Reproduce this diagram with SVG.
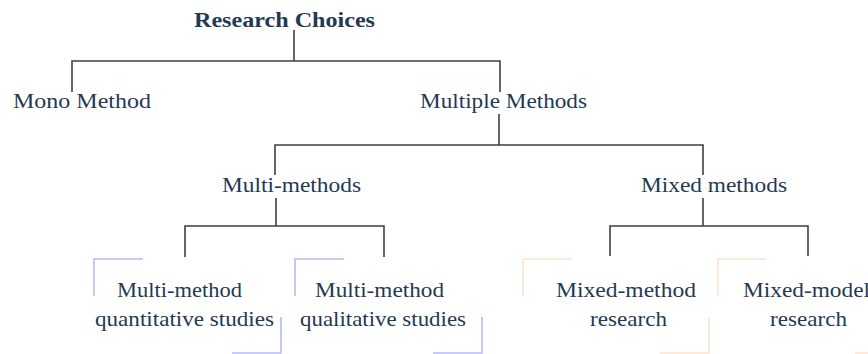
<svg xmlns="http://www.w3.org/2000/svg" width="868" height="354" viewBox="0 0 868 354">
  <style>
    .lbl { font-family: "Liberation Serif", "Times New Roman", serif; font-size: 21px; fill: #1f3a52; }
    .ttl { font-weight: bold; }
    .conn { stroke: #3f3f3f; stroke-width: 1.6; fill: none; }
    .brk-b { stroke: #b9b9f3; stroke-width: 1.6; fill: none; }
    .brk-o { stroke: #fbe5d2; stroke-width: 1.6; fill: none; }
  </style>
  <rect width="868" height="354" fill="#ffffff"/>

  <!-- tree connectors -->
  <g id="connectors">
    <path class="conn" d="M294 30 V61 M72 92 V61 H500 V92"/>
    <path class="conn" d="M499 114 V145 M275 175 V145 H703 V175"/>
    <path class="conn" d="M276 198 V226 M185 257 V226 H384 V257"/>
    <path class="conn" d="M703 198 V226 M610 256 V226 H808 V256"/>
  </g>

  <g id="research-choices">
    <text class="lbl ttl" x="194" y="27" textLength="181" lengthAdjust="spacingAndGlyphs">Research Choices</text>
  </g>
  <g id="mono-method">
    <text class="lbl" x="13" y="108" textLength="138" lengthAdjust="spacingAndGlyphs">Mono Method</text>
  </g>
  <g id="multiple-methods">
    <text class="lbl" x="420" y="108" textLength="167" lengthAdjust="spacingAndGlyphs">Multiple Methods</text>
  </g>
  <g id="multi-methods">
    <text class="lbl" x="222" y="192" textLength="139" lengthAdjust="spacingAndGlyphs">Multi-methods</text>
  </g>
  <g id="mixed-methods">
    <text class="lbl" x="641" y="192" textLength="146" lengthAdjust="spacingAndGlyphs">Mixed methods</text>
  </g>

  <g id="multi-method-quantitative">
    <path class="brk-b" d="M94 296 V259 H143 M232 353 H281 V317"/>
    <text class="lbl" x="117" y="297" textLength="125" lengthAdjust="spacingAndGlyphs">Multi-method</text>
    <text class="lbl" x="95" y="326" textLength="179" lengthAdjust="spacingAndGlyphs">quantitative studies</text>
  </g>
  <g id="multi-method-qualitative">
    <path class="brk-b" d="M295 296 V259 H344 M433 353 H482 V317"/>
    <text class="lbl" x="315" y="297" textLength="129" lengthAdjust="spacingAndGlyphs">Multi-method</text>
    <text class="lbl" x="300" y="326" textLength="166" lengthAdjust="spacingAndGlyphs">qualitative studies</text>
  </g>
  <g id="mixed-method-research">
    <path class="brk-o" d="M523 296 V259 H572 M660 353 H709 V317"/>
    <text class="lbl" x="556" y="297" textLength="140" lengthAdjust="spacingAndGlyphs">Mixed-method</text>
    <text class="lbl" x="590" y="326" textLength="77" lengthAdjust="spacingAndGlyphs">research</text>
  </g>
  <g id="mixed-model-research">
    <path class="brk-o" d="M718 296 V259 H766 M855 353 H904 V317"/>
    <text class="lbl" x="743" y="297" textLength="127" lengthAdjust="spacingAndGlyphs">Mixed-model</text>
    <text class="lbl" x="770" y="326" textLength="77" lengthAdjust="spacingAndGlyphs">research</text>
  </g>
</svg>
